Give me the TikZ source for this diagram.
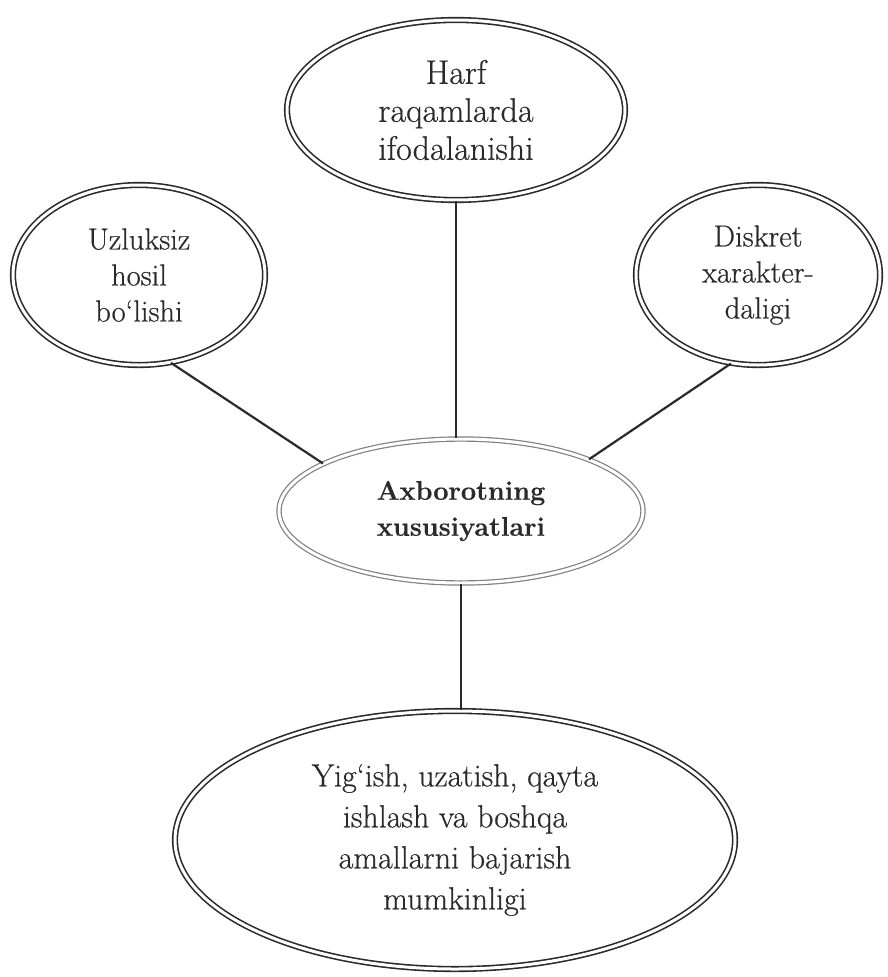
\documentclass[tikz,border=0pt]{standalone}
\usepackage{fontspec}
\setmainfont{Latin Modern Roman}[FakeBold=0.5]
\usetikzlibrary{shapes.geometric}
\definecolor{ink}{HTML}{2A2A2A}
\definecolor{lightink}{HTML}{808080}
\tikzset{
  oval/.style={ellipse, draw=ink, double=white, double distance=3pt, line width=1.6pt,
    inner sep=0pt, align=center, text=ink},
  ovallight/.style={oval, draw=lightink, line width=1.2pt, double distance=3pt},
  link/.style={draw=ink, line width=2.2pt}
}
\begin{document}
\begin{tikzpicture}[x=1pt,y=-1pt]
\useasboundingbox[fill=white] (0,0) rectangle (887,977);
\node[oval, minimum width=338pt, minimum height=180pt,
  font=\fontsize{34}{38}\selectfont] (top) at (456,110) {Harf\\raqamlarda\\ifodalanishi};
\node[oval, minimum width=252pt, minimum height=180pt,
  font=\fontsize{30.5}{36}\selectfont] (left) at (139,275) {Uzluksiz\\hosil\\bo`lishi};
\node[oval, minimum width=244pt, minimum height=180pt,
  font=\fontsize{30.5}{36}\selectfont] (right) at (758,275) {Diskret\\xarakter-\\daligi};
\node[ovallight, minimum width=364pt, minimum height=144pt,
  font=\fontsize{27}{36}\selectfont\bfseries] (mid) at (461,511) {Axborotning\\xususiyatlari};
\node[oval, minimum width=560pt, minimum height=258pt,
  font=\fontsize{32}{41}\selectfont] (bot) at (455,840) {Yig‘ish, uzatish, qayta\\ishlash va boshqa\\amallarni bajarish\\mumkinligi};
\draw[link] (top.south) -- (top.south |- mid.north);
\draw[link] (left.-70) -- (mid.161);
\draw[link] (right.-107) -- (mid.22);
\draw[link] (mid.south) -- (mid.south |- bot.north);
\end{tikzpicture}
\end{document}
